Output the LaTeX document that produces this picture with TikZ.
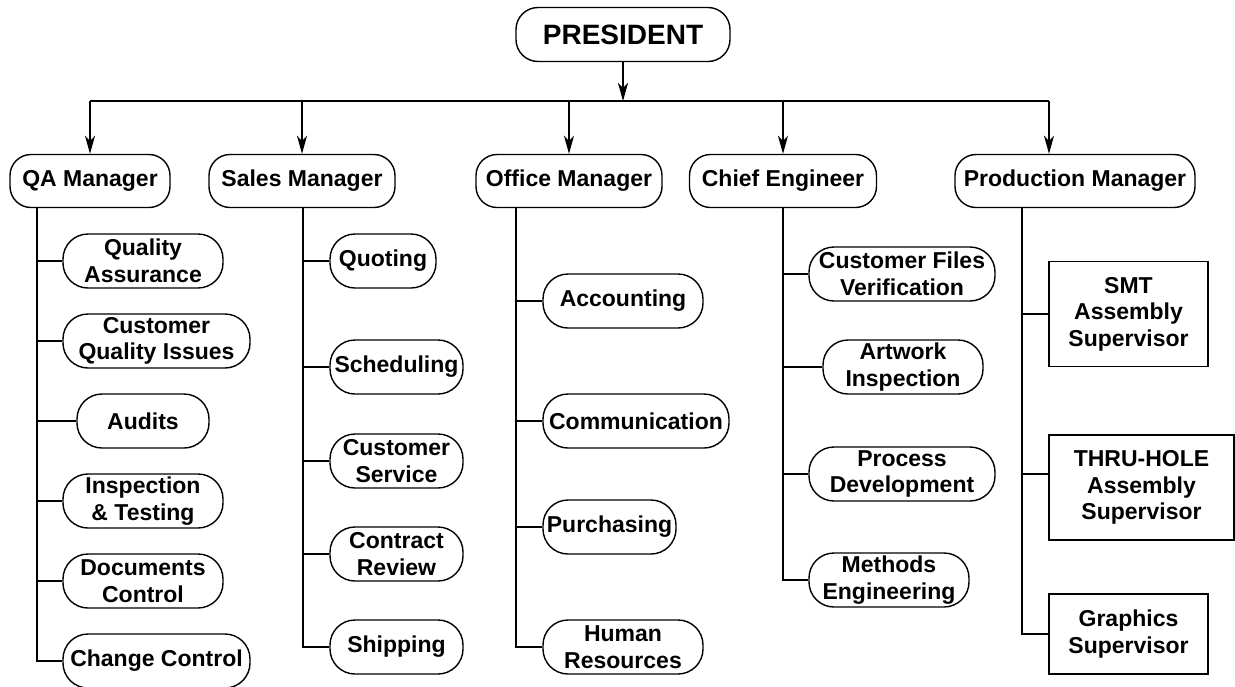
\documentclass[tikz,border=0pt]{standalone}
\usepackage{fontspec}
\setmainfont{Liberation Sans}
\usetikzlibrary{arrows.meta}
\begin{document}
\begin{tikzpicture}[x=1pt,y=-1pt,
  every node/.style={font=\bfseries\fontsize{23}{26.5}\selectfont, align=center, inner sep=0pt},
  pres/.style={draw, line width=1.4pt, rounded corners=22pt, minimum width=214pt, minimum height=54pt,
    font=\bfseries\fontsize{28}{32}\selectfont},
  mgr/.style={draw, line width=1.4pt, rounded corners=21pt, minimum height=53pt},
  pill/.style={draw, line width=1.4pt, rounded corners=25pt, minimum height=54pt},
  sup/.style={draw, line width=1.4pt, rectangle},
  link/.style={line width=1.7pt},
  feed/.style={line width=1.7pt, -{Stealth[length=18pt,width=10pt,inset=5pt]}}]
\useasboundingbox (0,0) rectangle (1235,686);

% top level
\node[pres] (pres) at (623,34.5) {PRESIDENT};

% managers
\node[mgr, minimum width=160pt] (qa) at (90,181) {QA Manager};
\node[mgr, minimum width=186pt] (sm) at (302,181) {Sales Manager};
\node[mgr, minimum width=186pt] (om) at (569,181) {Office Manager};
\node[mgr, minimum width=187pt] (ce) at (783,181) {Chief Engineer};
\node[mgr, minimum width=240pt] (pm) at (1075,181) {Production Manager};

% distribution bus
\coordinate (pmDrop) at (1049,101);
\draw[feed] (pres.south) -- (pres.south |- pmDrop);
\draw[link] (qa.north |- pmDrop) -- (pmDrop);
\foreach \m in {qa,sm,om,ce} \draw[feed] (\m.north |- pmDrop) -- (\m.north);
\draw[feed] (pmDrop) -- (pmDrop |- pm.north);

% QA departments
\node[pill, minimum width=160pt] (qa1) at (143,261) {Quality\\Assurance};
\node[pill, minimum width=187pt] (qa2) at (156.5,341) {Customer\\Quality Issues};
\node[pill, minimum width=132pt] (qa3) at (143,421) {Audits};
\node[pill, minimum width=160pt] (qa4) at (143,501) {Inspection\\\& Testing};
\node[pill, minimum width=160pt] (qa5) at (143,581) {Documents\\Control};
\node[pill, minimum width=187pt] (qa6) at (156.5,661) {Change Control};

% Sales departments
\node[pill, minimum width=106pt] (sm1) at (383,261) {Quoting};
\node[pill, minimum width=133pt] (sm2) at (396.5,367) {Scheduling};
\node[pill, minimum width=133pt] (sm3) at (396.5,461) {Customer\\Service};
\node[pill, minimum width=133pt] (sm4) at (396.5,554) {Contract\\Review};
\node[pill, minimum width=133pt] (sm5) at (396.5,647) {Shipping};

% Office departments
\node[pill, minimum width=160pt] (om1) at (623,301) {Accounting};
\node[pill, minimum width=186pt] (om2) at (636,421) {Communication};
\node[pill, minimum width=133pt] (om3) at (609.5,527) {Purchasing};
\node[pill, minimum width=160pt] (om4) at (623,647) {Human\\Resources};

% Engineering departments
\node[pill, minimum width=186pt] (ce1) at (902,274) {Customer Files\\Verification};
\node[pill, minimum width=160pt] (ce2) at (903,367) {Artwork\\Inspection};
\node[pill, minimum width=186pt] (ce3) at (902,474) {Process\\Development};
\node[pill, minimum width=160pt] (ce4) at (889,580) {Methods\\Engineering};

% Production supervisors
\node[sup, minimum width=159pt, minimum height=105pt] (pm1) at (1128.5,314) {SMT\\Assembly\\Supervisor};
\node[sup, minimum width=185pt, minimum height=105pt] (pm2) at (1141.5,487.5) {THRU-HOLE\\Assembly\\Supervisor};
\node[sup, minimum width=159pt, minimum height=80pt] (pm3) at (1128.5,634) {Graphics\\Supervisor};
\coordinate (pm2in) at ([yshift=13.5pt]pm2.west);

% trunk lines
\coordinate (qaX) at (37,0);
\coordinate (smX) at (303,0);
\coordinate (omX) at (516,0);
\coordinate (ceX) at (783,0);
\coordinate (pmX) at (1022,0);

\draw[link] (qa.south -| qaX) |- (qa6.west);
\foreach \i in {1,...,5} \draw[link] (qaX |- qa\i.west) -- (qa\i.west);

\draw[link] (sm.south -| smX) |- (sm5.west);
\foreach \i in {1,...,4} \draw[link] (smX |- sm\i.west) -- (sm\i.west);

\draw[link] (om.south -| omX) |- (om4.west);
\foreach \i in {1,...,3} \draw[link] (omX |- om\i.west) -- (om\i.west);

\draw[link] (ce.south -| ceX) |- (ce4.west);
\foreach \i in {1,...,3} \draw[link] (ceX |- ce\i.west) -- (ce\i.west);

\draw[link] (pm.south -| pmX) |- (pm3.west);
\draw[link] (pmX |- pm1.west) -- (pm1.west);
\draw[link] (pmX |- pm2in) -- (pm2in);
\end{tikzpicture}
\end{document}
